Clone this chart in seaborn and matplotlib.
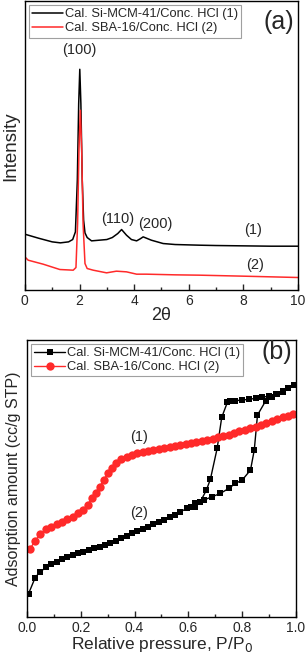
import numpy as np
import pandas as pd
import seaborn as sns
import matplotlib.pyplot as plt
from matplotlib.ticker import MultipleLocator

# ---- (a) XRD patterns ----
xrd_x_1 = [0.0, 0.5, 1.0, 1.3, 1.6, 1.75, 1.85, 1.92, 1.97, 2.01, 2.05, 2.1, 2.15, 2.2, 2.28, 2.44,
           3.0, 3.2, 3.4, 3.54, 3.72, 3.9, 4.09, 4.22, 4.33, 4.45, 4.63, 5.06, 5.5, 6.4, 7.0, 8.0, 9.0, 10.0]
xrd_y_1 = [168, 156, 145, 142, 145, 152, 175, 330, 560, 663, 560, 330, 210, 172, 158, 148,
           152, 158, 170, 182, 165, 152, 148, 154, 160, 156, 150, 140, 137, 135, 134, 133, 132, 132]
xrd_x_2 = [0.0, 0.12, 0.67, 1.28, 1.77, 1.87, 1.93, 1.98, 2.03, 2.08, 2.13, 2.2, 2.28, 2.5,
           2.99, 3.35, 3.72, 4.09, 4.45, 5.5, 6.4, 8.0, 10.0]
xrd_y_2 = [100, 90, 78, 62, 60, 68, 200, 420, 540, 420, 200, 80, 65, 60,
           52, 57, 55, 48, 48, 46, 45, 42, 38]

# ---- (b) N2 isotherms ----
mcm_x = [0.006, 0.029, 0.047, 0.072, 0.09, 0.11, 0.13, 0.15, 0.17, 0.19, 0.21, 0.23, 0.25, 0.27,
         0.29, 0.31, 0.33, 0.35, 0.37, 0.39, 0.41, 0.43, 0.45, 0.47, 0.49, 0.51, 0.53, 0.55, 0.57,
         0.595, 0.626, 0.657, 0.688, 0.719, 0.75, 0.775, 0.80, 0.831, 0.845, 0.857, 0.888,
         0.91, 0.93, 0.95, 0.97, 0.994,
         0.97, 0.95, 0.925, 0.90, 0.875, 0.85, 0.825, 0.80, 0.775, 0.755, 0.745,
         0.724, 0.707, 0.682, 0.667, 0.643, 0.626, 0.61]
mcm_y = [70, 115, 135, 148, 157, 165, 172, 178, 184, 190, 195, 200, 205, 210,
         216, 222, 228, 235, 242, 250, 257, 263, 270, 277, 284, 291, 298, 306, 315,
         325, 340, 350, 360, 370, 385, 400, 410, 440, 500, 605, 648,
         660, 668, 675, 685, 695,
         685, 677, 668, 662, 658, 655, 652, 650, 648, 646, 643,
         598, 505, 413, 380, 343, 330, 328]
sba_x = [0.010, 0.030, 0.050, 0.070, 0.090, 0.110, 0.130, 0.150, 0.170, 0.190, 0.210, 0.225,
         0.240, 0.255, 0.270, 0.285, 0.300, 0.315, 0.330, 0.350, 0.370, 0.390, 0.410, 0.430,
         0.450, 0.470, 0.490, 0.510, 0.530, 0.550, 0.570, 0.590, 0.610, 0.630, 0.650, 0.670,
         0.690, 0.710, 0.730, 0.750, 0.770, 0.790, 0.810, 0.830, 0.850, 0.870, 0.890, 0.910,
         0.930, 0.950, 0.970, 0.990]
sba_y = [202, 228, 248, 262, 270, 277, 285, 292, 300, 310, 320, 335,
         355, 372, 390, 410, 430, 447, 460, 472, 480, 486, 490, 494,
         498, 501, 504, 507, 510, 512, 515, 518, 521, 524, 527, 530,
         534, 538, 542, 546, 551, 556, 560, 565, 570, 575, 580, 586,
         592, 598, 603, 608]

lab1 = "Cal. Si-MCM-41/Conc. HCl (1)"
lab2 = "Cal. SBA-16/Conc. HCl (2)"

sns.set_style("white")
plt.rcParams['font.family'] = ['Liberation Sans', 'DejaVu Sans']

fig = plt.figure(figsize=(3.07, 6.64), dpi=100)
ax1 = fig.add_axes([0.081, 0.563, 0.890, 0.435])
ax2 = fig.add_axes([0.088, 0.071, 0.876, 0.417])

# panel (a)
sns.lineplot(x=xrd_x_1, y=xrd_y_1, ax=ax1, color='black', lw=1.1, label=lab1, sort=False, estimator=None)
sns.lineplot(x=xrd_x_2, y=xrd_y_2, ax=ax1, color='#ff2a2a', lw=1.1, label=lab2, sort=False, estimator=None)
ax1.set_xlim(0, 10)
ax1.set_ylim(0, 867)
ax1.set_yticks([])
ax1.xaxis.set_major_locator(MultipleLocator(2))
ax1.xaxis.set_minor_locator(MultipleLocator(1))
ax1.set_xlabel("2θ", fontsize=13, labelpad=-1)
ax1.set_ylabel("Intensity", fontsize=13.5, labelpad=4)
ax1.text(2.01, 720, "(100)", ha='center', va='center', fontsize=10.5)
ax1.text(3.41, 215, "(110)", ha='center', va='center', fontsize=10.5)
ax1.text(4.79, 200, "(200)", ha='center', va='center', fontsize=10.5)
ax1.text(8.35, 180, "(1)", ha='center', va='center', fontsize=10.5)
ax1.text(8.41, 75, "(2)", ha='center', va='center', fontsize=10.5)
ax1.text(9.3, 805, "(a)", ha='center', va='center', fontsize=18)

# panel (b)
sns.lineplot(x=mcm_x, y=mcm_y, ax=ax2, color='black', lw=1.0, marker='s', markersize=4.5,
             markeredgewidth=0, label=lab1, sort=False, estimator=None)
sns.lineplot(x=sba_x, y=sba_y, ax=ax2, color='#ff2a2a', lw=1.0, marker='o', markersize=6,
             markeredgewidth=0, label=lab2, sort=False, estimator=None)
ax2.set_xlim(0, 1.0)
ax2.set_ylim(0, 830)
ax2.set_yticks([])
ax2.xaxis.set_major_locator(MultipleLocator(0.2))
ax2.xaxis.set_minor_locator(MultipleLocator(0.1))
ax2.xaxis.set_major_formatter(plt.FuncFormatter(lambda v, p: f"{v:.1f}"))
ax2.set_xlabel("Relative pressure, P/P$_0$", fontsize=12.5, labelpad=0)
ax2.set_ylabel("Adsorption amount (cc/g STP)", fontsize=11.5, labelpad=4)
ax2.text(0.415, 540, "(1)", ha='center', va='center', fontsize=10.5)
ax2.text(0.415, 312, "(2)", ha='center', va='center', fontsize=10.5)
ax2.text(0.93, 795, "(b)", ha='center', va='center', fontsize=18)

for ax in (ax1, ax2):
    for s in ax.spines.values():
        s.set_color('black')
        s.set_linewidth(1.0)
    ax.tick_params(axis='x', which='major', direction='in', length=4, width=1, labelsize=10, pad=3)
    ax.tick_params(axis='x', which='minor', direction='in', length=2.5, width=1)
    ax.tick_params(axis='x', which='both', bottom=True)
    leg = ax.legend(loc='upper left', bbox_to_anchor=(0.0, 1.0), fontsize=9.3, frameon=True,
                    fancybox=False, edgecolor='#888888', handlelength=2.4, handletextpad=0.15,
                    borderpad=0.25, labelspacing=0.15, borderaxespad=0.3)
    leg.get_frame().set_linewidth(0.8)

fig.savefig("out.png", dpi=100)
